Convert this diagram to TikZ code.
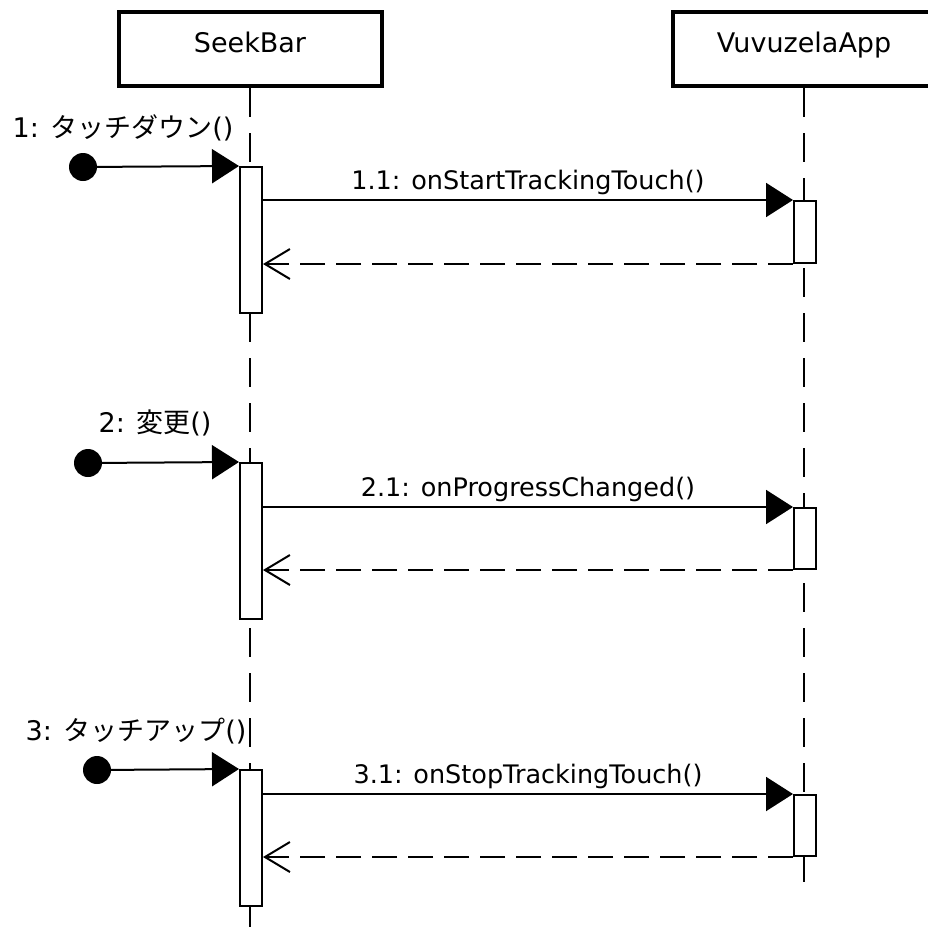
\documentclass[tikz,border=0pt]{standalone}
\usepackage{fontspec}
\setmainfont{DejaVu Sans}
\newfontfamily\jpfont{Noto Sans CJK JP}
\usetikzlibrary{arrows.meta}
\usetikzlibrary{positioning}

\tikzset{
  headbox/.style={draw, line width=4pt, fill=white, inner sep=0pt, minimum width=263pt,
                  text height=40pt, text depth=34pt, font=\fontsize{27}{32}\selectfont},
  lifeline/.style={line width=2pt, dash pattern=on 29pt off 16pt},
  actbar/.style={draw, line width=2pt, fill=white, inner sep=0pt, minimum width=22pt},
  founddot/.style={circle, fill=black, inner sep=0pt, minimum size=28pt},
  foundlabel/.style={anchor=base, inner sep=0pt, font=\fontsize{27}{32}\selectfont},
  msglabel/.style={anchor=base, inner sep=0pt, yshift=11pt, font=\fontsize{25.5}{30}\selectfont},
  callmsg/.style={line width=2pt, -{Triangle[length=27pt, width=34pt]}},
  replymsg/.style={line width=2pt, dash pattern=on 25pt off 11pt, -{Straight Barb[length=25pt, width=30pt]}}
}

\begin{document}
\begin{tikzpicture}[x=1pt, y=-1pt]
    % Frame
    \useasboundingbox (0,0) rectangle (928,929);
    % Lifelines
    \node[headbox] (sb) at (250,49) {SeekBar};
    \node[headbox] (va) at (804,49) {VuvuzelaApp};
    \coordinate (sbend) at (250,929);
    \coordinate (vaend) at (804,887);
    \draw[lifeline] (sb.south) -- (sbend);
    \draw[lifeline] (va.south) -- (vaend);
    % Activation bars
    \node[actbar, minimum height=146pt] (sb1) at (251,240)   {};
    \node[actbar, minimum height=156pt] (sb2) at (251,541)   {};
    \node[actbar, minimum height=136pt] (sb3) at (251,838)   {};
    \node[actbar, minimum height=62pt]  (va1) at (805,232)   {};
    \node[actbar, minimum height=61pt]  (va2) at (805,538.5) {};
    \node[actbar, minimum height=61pt]  (va3) at (805,825.5) {};
    % Found messages
    \node[founddot] (d1) at (83,167) {};
    \node[founddot] (d2) at (88,463) {};
    \node[founddot] (d3) at (97,770) {};
    \draw[callmsg] (d1) -- (sb1.north west);
    \draw[callmsg] (d2) -- (sb2.north west);
    \draw[callmsg] (d3) -- (sb3.north west);
    \node[foundlabel] (f1) at (123,137) {1: {\jpfont タッチダウン}()};
    \node[foundlabel] (f2) at (155,432) {2: {\jpfont 変更}()};
    \node[foundlabel] (f3) at (136,740) {3: {\jpfont タッチアップ}()};
    % Calls
    \draw[callmsg] (sb1.east |- va1.north west) -- (va1.north west)
         node[msglabel, midway] (m1) {1.1: onStartTrackingTouch()};
    \draw[callmsg] (sb2.east |- va2.north west) -- (va2.north west)
         node[msglabel, midway] (m2) {2.1: onProgressChanged()};
    \draw[callmsg] (sb3.east |- va3.north west) -- (va3.north west)
         node[msglabel, midway] (m3) {3.1: onStopTrackingTouch()};
    % Replies
    \draw[replymsg] (va1.south west) -- (sb1.east |- va1.south west);
    \draw[replymsg] (va2.south west) -- (sb2.east |- va2.south west);
    \draw[replymsg] (va3.south west) -- (sb3.east |- va3.south west);
\end{tikzpicture}
\end{document}
